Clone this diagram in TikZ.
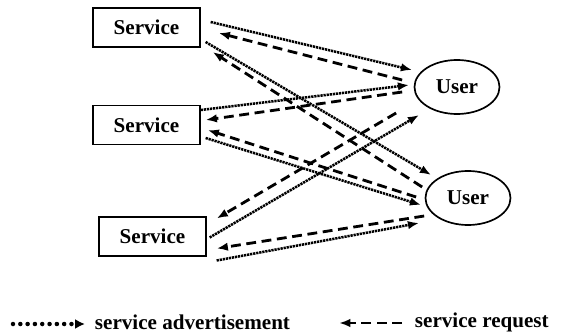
\documentclass[tikz,border=0pt]{standalone}
\usepackage{fontspec}
\setmainfont{Liberation Serif}
\usetikzlibrary{shapes.geometric,arrows.meta}

\begin{document}
\begin{tikzpicture}[x=0.025cm, y=-0.025cm,
  font=\fontsize{15}{18}\selectfont\bfseries,
  srvbox/.style={draw, line width=0.9pt, minimum width=2.675cm, minimum height=0.975cm, inner sep=0},
  usr/.style={draw, ellipse, line width=1.2pt, minimum width=2.125cm, minimum height=1.35cm, inner sep=0},
  adv/.style={line width=1.8pt, dash pattern=on 1.6pt off 0.6pt, -{Latex[length=8pt,width=6pt]}},
  advdots/.style={line width=3.2pt, line cap=round, dash pattern=on 0pt off 5.2pt, -{Latex[length=7pt,width=7pt]}},
  req/.style={line width=2pt, dash pattern=on 7pt off 4pt, -{Latex[length=8pt,width=6pt]}}]
  \useasboundingbox (0,0) rectangle (568,335);
  \node[srvbox] (s1) at (146.5,27.5) {Service};
  \node[srvbox] (s2) at (146.5,125) {Service};
  \node[srvbox] (s3) at (152.5,236.5) {Service};
  \node[usr] (u1) at (457,87) {User};
  \node[usr] (u2) at (468,198) {User};
  % service 1
  \draw[adv] ([shift={(10,-5.5)}]s1.east) -- ([shift={(-1.5,-17)}]u1.west);
  \draw[req] ([shift={(-11.5,-7)}]u1.west) -- ([shift={(18,5.5)}]s1.east);
  \draw[adv] ([shift={(5,14.5)}]s1.east) -- ([shift={(6.5,-23)}]u2.west);
  \draw[req] ([shift={(-2.5,-11)}]u2.west) -- ([shift={(12,24.5)}]s1.east);
  % service 2
  \draw[adv] ([shift={(0,-15)}]s2.east) -- ([shift={(-4.5,-2)}]u1.west);
  \draw[req] ([shift={(-11.5,5)}]u1.west) -- ([shift={(5,-5)}]s2.east);
  \draw[req] ([shift={(-8.5,-1)}]u2.west) -- ([shift={(7,5)}]s2.east);
  \draw[adv] ([shift={(5,13)}]s2.east) -- ([shift={(-3.5,7)}]u2.west);
  % service 3
  \draw[adv] ([shift={(3,1)}]s3.east) -- ([shift={(5.5,28)}]u1.west);
  \draw[req] ([shift={(-17.5,26)}]u1.west) -- ([shift={(10,-18)}]s3.east);
  \draw[req] ([shift={(-0.5,18)}]u2.west) -- ([shift={(10,12)}]s3.east);
  \draw[adv] ([shift={(10,24)}]s3.east) -- ([shift={(-5.5,25)}]u2.west);
  % legend
  \node[anchor=west] (advtxt) at (90,322) {service advertisement};
  \node[anchor=west] (reqtxt) at (410,322) {service request};
  \coordinate (advtail) at (13,324);
  \coordinate (reqtip) at (339,323);
  \draw[advdots] (advtail) -- ([shift={(-5,2)}]advtxt.west);
  \draw[req] ([shift={(-8,1)}]reqtxt.west) -- (reqtip);
\end{tikzpicture}
\end{document}
